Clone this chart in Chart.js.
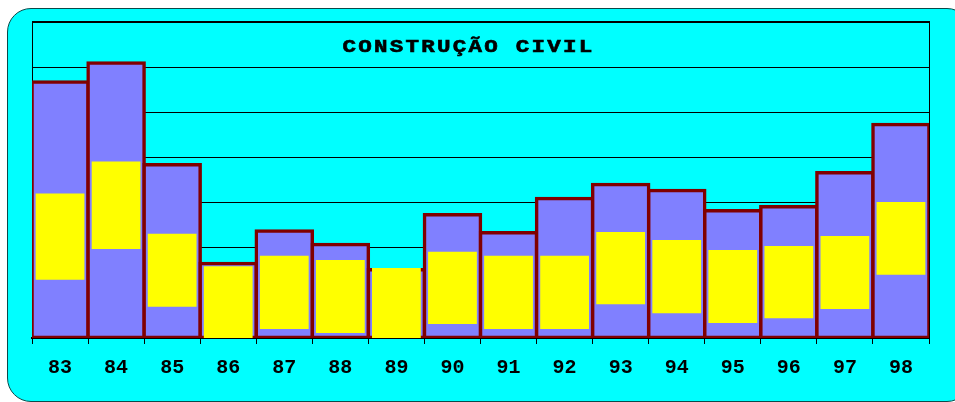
<!DOCTYPE html>
<html>
<head>
<meta charset="utf-8">
<script src="https://cdn.jsdelivr.net/npm/chart.js@4.4.1/dist/chart.umd.min.js"></script>
<style>
  html, body { margin: 0; padding: 0; background: #ffffff; overflow: hidden; }
  #panel { position: absolute; left: 7px; top: 8px; width: 962px; height: 392px;
           background: #00FFFF; border: 1px solid #0b4a4a; border-radius: 24px; }
  #wrap { position: absolute; left: 0; top: 0; width: 955px; height: 402px; }
</style>
</head>
<body>
<div id="panel"></div>
<div id="wrap"><canvas id="c" width="955" height="402"></canvas></div>
<script>
const title = "CONSTRUÇÃO CIVIL";
const years = ["83","84","85","86","87","88","89","90","91","92","93","94","95","96","97","98"];
const totalValues = [56.7, 60.9, 38.4, 16.5, 23.7, 20.7, 15.1, 27.3, 23.3, 30.9, 34.0, 32.7, 28.2, 29.1, 36.6, 47.3];
const rangeLow  = [12.9, 19.7, 6.9, -0.2, 2.0, 1.1, -0.6, 3.1, 2.0, 2.0, 7.5, 5.5, 3.3, 4.4, 6.4, 14.0];
const rangeHigh = [32.0, 39.1, 23.1, 15.9, 18.2, 17.3, 15.5, 19.1, 18.2, 18.2, 23.5, 21.7, 19.5, 20.4, 22.6, 30.1];

const rangeData = rangeLow.map((lo, i) => [lo, rangeHigh[i]]);

const framePlugin = {
  id: 'frame',
  beforeDatasetsDraw(chart) {
    const {ctx, chartArea: a} = chart;
    ctx.save();
    ctx.strokeStyle = '#000';
    ctx.lineWidth = 1;
    ctx.beginPath();
    ctx.moveTo(a.right + 0.5, a.top);
    ctx.lineTo(a.right + 0.5, a.bottom);
    ctx.stroke();
    ctx.lineWidth = 2;
    ctx.beginPath();
    ctx.moveTo(a.left, a.top);
    ctx.lineTo(a.right + 1, a.top);
    ctx.stroke();
    ctx.restore();
  },
  afterDraw(chart) {
    const {ctx, chartArea: a} = chart;
    ctx.save();
    ctx.fillStyle = '#000';
    ctx.strokeStyle = '#000';
    ctx.lineWidth = 0.6;
    ctx.font = 'bold 18px "Liberation Mono", monospace';
    ctx.textAlign = 'center';
    ctx.textBaseline = 'middle';
    const cx = (a.left + a.right) / 2 - 12;
    ctx.translate(cx, a.top + 25);
    ctx.scale(1.25, 1);
    try { ctx.letterSpacing = '1.8px'; } catch (e) {}
    ctx.fillText(title, 0, 0);
    ctx.strokeText(title, 0, 0);
    ctx.restore();
  }
};

new Chart(document.getElementById('c'), {
  type: 'bar',
  data: {
    labels: years,
    datasets: [
      {
        label: 'faixa',
        data: rangeData,
        backgroundColor: '#FFFF00',
        borderWidth: 0,
        inflateAmount: 0,
        grouped: false,
        order: 0,
        barPercentage: 0.87,
        categoryPercentage: 1
      },
      {
        label: 'total',
        data: totalValues,
        backgroundColor: '#8080FF',
        borderColor: '#800000',
        borderWidth: 3.5,
        borderSkipped: false,
        inflateAmount: 1.75,
        grouped: false,
        order: 1,
        barPercentage: 1,
        categoryPercentage: 1
      }
    ]
  },
  options: {
    responsive: false,
    animation: false,
    layout: { padding: { left: 32, right: 26, top: 22, bottom: 0 } },
    plugins: { legend: { display: false }, tooltip: { enabled: false }, title: { display: false } },
    scales: {
      x: {
        offset: true,
        grid: { offset: true, drawOnChartArea: false, color: '#000', tickLength: 6, tickWidth: 1 },
        border: { color: '#000', width: 2 },
        ticks: { color: '#000', padding: 12, font: { family: '"Liberation Mono", monospace', size: 20, weight: 'bold' } },
        afterFit(s) { s.height = 64; }
      },
      y: {
        min: 0, max: 70,
        ticks: { display: false, stepSize: 10 },
        grid: { color: '#000', lineWidth: 1, drawTicks: false },
        border: { color: '#000', width: 1 },
        afterFit(s) { s.width = 0; }
      }
    }
  },
  plugins: [framePlugin]
});
</script>
</body>
</html>
